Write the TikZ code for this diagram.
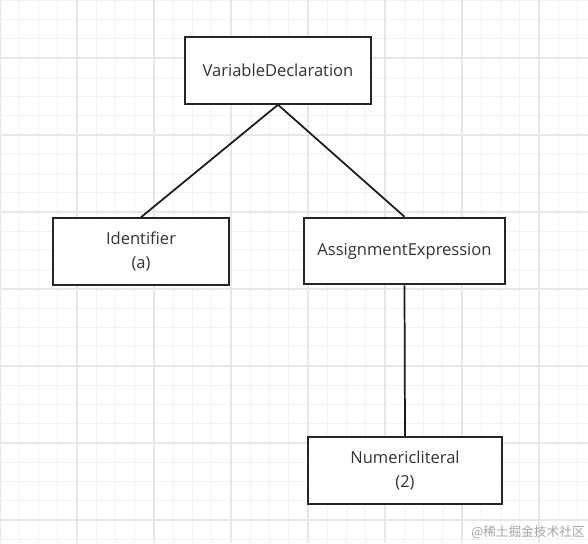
\documentclass[tikz,border=0pt]{standalone}
\usepackage{fontspec}
\setmainfont{Open Sans}
\newfontfamily\cjkfont{Noto Sans CJK SC}
\usetikzlibrary{positioning}
\definecolor{gridminor}{HTML}{F2F2F2}
\definecolor{gridmajor}{HTML}{E7E7E7}
\definecolor{labeltext}{HTML}{333333}
\tikzset{
  astnode/.style = {rectangle, draw=black!85, fill=white, line width=1.4pt,
                    text=labeltext, font=\fontsize{12.4}{17.5}\selectfont,
                    align=center, minimum height=50pt, inner sep=0pt},
  astedge/.style = {line width=1.3pt, black!90},
  minorline/.style = {gridminor, line width=0.8pt},
  majorline/.style = {gridmajor, line width=0.8pt},
}

\begin{document}
\begin{tikzpicture}[x=0.75pt, y=-0.75pt]

%── background grid ────────────────────────────────────────────
\fill[white] (0,0) rectangle (588,543);
\useasboundingbox (0,0) rectangle (588,543);
\foreach \i in {0,...,30}{
  \draw[minorline] (\i*19.25,0) -- (\i*19.25,543);
  \draw[minorline] (0,\i*19.25+0.25) -- (588,\i*19.25+0.25);
}
\foreach \i in {0,...,7}{
  \draw[majorline] (\i*77,0) -- (\i*77,543);
  \draw[majorline] (0,\i*77+58) -- (588,\i*77+58);
}

%── syntax tree nodes ──────────────────────────────────────────
\node[astnode, minimum width=139.5pt] (decl)   at (278,70.5)  {VariableDeclaration};
\node[astnode, minimum width=132pt]   (ident)  at (141,251.5) {Identifier\\(a)};
\node[astnode, minimum width=150.75pt] (assign) at (404.5,251) {AssignmentExpression};
\node[astnode, minimum width=145.5pt] (numlit) at (405,470.5) {Numericliteral\\(2)};

%── edges ──────────────────────────────────────────────────────
\draw[astedge] (decl.south) -- (ident.north);
\draw[astedge] (decl.south) -- (assign.north);
\draw[astedge] (assign.south) -- (numlit.north);

% watermark
\node[text=black!35, font=\cjkfont\fontsize{9.5}{11}\selectfont] (mark) at (528,532)
  {@稀土掘金技术社区};

\end{tikzpicture}
\end{document}
